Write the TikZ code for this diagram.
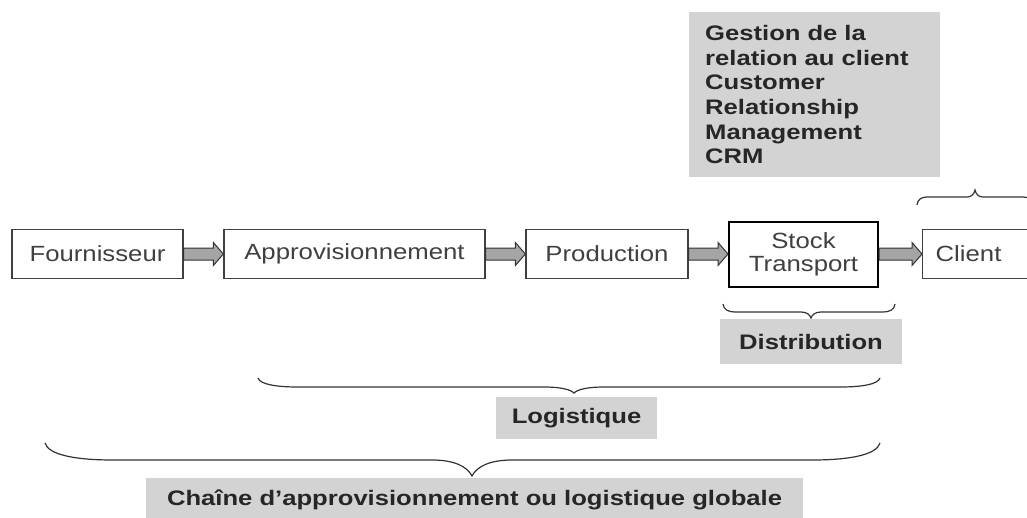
\documentclass[tikz,border=0pt]{standalone}
\usepackage{fontspec}
\usetikzlibrary{calc}
\newfontfamily\boxfont[FakeStretch=1.17]{Liberation Sans}
\newfontfamily\labfont[FakeStretch=1.22]{Liberation Sans}
\definecolor{boxgray}{RGB}{211,211,211}
\definecolor{arrowgray}{RGB}{165,165,165}

% curly brace: x-left, x-right, x-tip, y-ends, y-straight, y-tip, end-curve width, tip-curve width
\newcommand\curlybrace[8]{%
  \draw[bracestyle] (#1,#4)
    .. controls ({#1+0.05*#7},{#4+0.7*(#5-#4)}) and ({#1+0.45*#7},#5) .. ({#1+#7},#5)
    -- ({#3-#8},#5)
    .. controls ({#3-0.45*#8},#5) and ({#3-0.12*#8},{#5+0.4*(#6-#5)}) .. (#3,#6)
    .. controls ({#3+0.12*#8},{#5+0.4*(#6-#5)}) and ({#3+0.45*#8},#5) .. ({#3+#8},#5)
    -- ({#2-#7},#5)
    .. controls ({#2-0.45*#7},#5) and ({#2-0.05*#7},{#4+0.7*(#5-#4)}) .. (#2,#4);}

% block arrow between two boxes
\newcommand\blockarrow[2]{%
  \filldraw[arrowstyle] ($(#1.east)+(0,-6)$) -- ($(#2.west)+(-10,-6)$)
    -- ($(#2.west)+(-10,-11.5)$) -- (#2.west) -- ($(#2.west)+(-10,11.5)$)
    -- ($(#2.west)+(-10,6)$) -- ($(#1.east)+(0,6)$) -- cycle;}

\tikzset{
  box/.style={draw=black!75, line width=1.3pt, fill=white, minimum height=49pt,
    inner sep=0pt, text=black!75, font=\boxfont\fontsize{22}{23}\selectfont},
  graybox/.style={fill=boxgray, draw=none, inner sep=0pt, text=black!85,
    font=\labfont\bfseries\fontsize{21}{24.6}\selectfont},
  bracestyle/.style={draw=black!80, line width=1.2pt},
  arrowstyle/.style={fill=arrowgray, draw=black!80, line width=1pt, line join=miter},
}

\begin{document}
\begin{tikzpicture}[x=1pt, y=-1pt]
\useasboundingbox (0,0) rectangle (1027,517);
\clip (0,0) rectangle (1027,517);
\fill[white] (0,0) rectangle (1027,517);

% chain of boxes
\node[box, minimum width=171pt] (four) at (97.5,254) {Fournisseur};
\node[box, minimum width=261pt] (appro) at (354.5,254) {Approvisionnement};
\node[box, minimum width=162pt] (prod) at (607,254) {Production};
\node[box, minimum width=149pt, minimum height=65pt, line width=2pt, draw=black,
      align=center] (stock) at (803.5,254) {Stock\\Transport};
\node[box, anchor=west, text width=100pt, inner xsep=13pt, align=left] (client)
      at (922,254) {Client};

\blockarrow{four}{appro}
\blockarrow{appro}{prod}
\blockarrow{prod}{stock}
\blockarrow{stock}{client}

% CRM label
\node[graybox, anchor=north west, minimum height=165pt, text width=219pt,
      inner xsep=16pt, align=left] (crm) at (689,12)
  {Gestion de la\\relation au client\\Customer\\Relationship\\Management\\CRM};

% labels under the chain
\node[graybox, minimum width=182pt, minimum height=45pt] (distrib) at (811,341.5) {Distribution};
\node[graybox, minimum width=161pt, minimum height=42pt] (logist) at (576.5,418) {Logistique};
\node[graybox, minimum width=657pt, minimum height=44pt] (chaine) at (474.5,500)
  {Chaîne d’approvisionnement ou logistique globale};

% braces
\curlybrace{917}{1033}{975}{205}{197}{190}{10}{8}
\curlybrace{723}{895}{811}{304}{312}{318}{12}{10}
\curlybrace{258}{880}{574}{378}{387}{393}{40}{30}
\curlybrace{45}{880}{472}{443}{460}{476}{68}{40}
\end{tikzpicture}
\end{document}
